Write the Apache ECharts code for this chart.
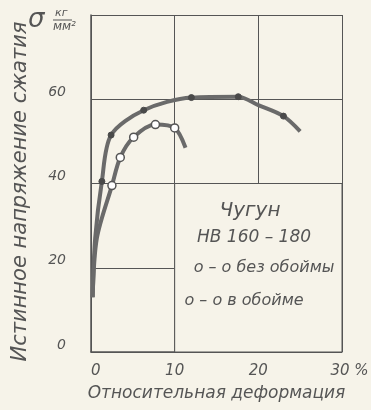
<!DOCTYPE html>
<html>
<head>
<meta charset="utf-8">
<script src="https://cdn.jsdelivr.net/npm/echarts@6/dist/echarts.min.js"></script>
<style>
  html, body { margin: 0; padding: 0; background: #f6f3e9; }
  #chart { width: 371px; height: 410px; }
</style>
</head>
<body>
<div id="chart"></div>
<script>
// относительная деформация, % / истинное напряжение, кг/мм2
var bezObojmy = [[0.2, 13], [0.5, 27], [1.3, 40.5], [2.4, 51.5], [6.3, 57.4], [12, 60.4], [17.6, 60.6], [20, 58.6], [23, 56], [25, 52.4]];
var vObojme = [[0.2, 13], [0.7, 27], [2.5, 39.5], [3.5, 46.2], [5.1, 51], [7.7, 54], [10, 53.2], [11.3, 48.5]];
// точки с кружками
var bezObojmyMarks = [2, 3, 4, 5, 6, 8];
var vObojmeMarks = [2, 3, 4, 5, 6];
var xTicks = [0, 10, 20, 30];
var yTicks = [0, 20, 40, 60, 80];

var ink = '#555';
var paper = '#f6f3e9';
var font = 'DejaVu Sans';

var chartDom = document.getElementById('chart');
var myChart = echarts.init(chartDom);

function withMarks(data, marks) {
    return data.map(function (p, i) {
        return { value: p, symbol: marks.indexOf(i) >= 0 ? 'circle' : 'none' };
    });
}

function label(x, y, text, size) {
    return {
        type: 'text', x: x, y: y, z: 100,
        style: { text: text, fill: ink, font: 'italic ' + size + 'px "DejaVu Sans"', align: 'center', verticalAlign: 'middle' }
    };
}

var option = {
    backgroundColor: paper,
    animation: false,
    grid: { left: 91, right: 29, top: 15, bottom: 58, outerBoundsMode: 'none', containLabel: false },
    xAxis: {
        type: 'value',
        min: xTicks[0], max: xTicks[xTicks.length - 1], interval: 10,
        name: 'Относительная деформация',
        nameLocation: 'middle',
        nameGap: 33,
        nameTextStyle: { color: ink, fontSize: 17, fontStyle: 'italic', fontFamily: font },
        axisLine: { lineStyle: { color: ink, width: 1.5 } },
        axisTick: { show: false },
        splitLine: { lineStyle: { color: ink, width: 1 } },
        axisLabel: {
            color: ink, fontSize: 15, fontStyle: 'italic', fontFamily: font,
            align: 'center', alignMinLabel: 'left', alignMaxLabel: 'center',
            margin: 12, hideOverlap: false,
            formatter: function (v) { return v === 30 ? '\u2002\u200230 %' : String(v); }
        }
    },
    yAxis: {
        type: 'value',
        min: yTicks[0], max: yTicks[yTicks.length - 1], interval: 20,
        name: 'Истинное напряжение сжатия',
        nameLocation: 'middle',
        nameGap: 60,
        nameRotate: 90,
        nameTextStyle: { color: ink, fontSize: 21, fontStyle: 'italic', fontFamily: font, padding: [0, 16, 0, 0] },
        axisLine: { show: true, lineStyle: { color: ink, width: 1.5 } },
        axisTick: { show: false },
        splitLine: { lineStyle: { color: ink, width: 1 } },
        axisLabel: {
            color: ink, fontSize: 14, fontStyle: 'italic', fontFamily: font,
            margin: 25, verticalAlign: 'bottom',
            formatter: function (v) { return v === 80 ? '' : String(v); }
        }
    },
    graphic: [
        { type: 'text', x: 28, y: 7, z: 100, style: { text: 'σ', fill: ink, font: 'italic 26px "DejaVu Sans"' } },
        { type: 'text', x: 55, y: 8, z: 100, style: { text: 'кг', fill: ink, font: 'italic 11px "DejaVu Sans"' } },
        { type: 'line', z: 100, shape: { x1: 53, y1: 20, x2: 72, y2: 20 }, style: { stroke: ink, lineWidth: 1 } },
        { type: 'text', x: 53, y: 21, z: 100, style: { text: 'мм²', fill: ink, font: 'italic 12px "DejaVu Sans"' } },
        label(250, 211, 'Чугун', 20),
        label(254, 238, 'НВ 160 – 180', 17),
        label(264, 268, 'о – о без обоймы', 16),
        label(244, 301, 'о – о в обойме', 16)
    ],
    series: [
        {
            name: 'рамка',
            type: 'line',
            data: [],
            markArea: {
                silent: true,
                itemStyle: { color: paper, borderColor: ink, borderWidth: 1 },
                data: [[{ coord: [10, 0] }, { coord: [30, 40] }]]
            }
        },
        {
            name: 'без обоймы',
            type: 'line',
            smooth: 0.3,
            data: withMarks(bezObojmy, bezObojmyMarks),
            symbolSize: 6,
            lineStyle: { color: '#6a6a6a', width: 4 },
            itemStyle: { color: '#4a4a4a', borderColor: '#4a4a4a', borderWidth: 1 },
            z: 3
        },
        {
            name: 'в обойме',
            type: 'line',
            smooth: 0.3,
            data: withMarks(vObojme, vObojmeMarks),
            symbolSize: 8,
            showAllSymbol: true,
            lineStyle: { color: '#6a6a6a', width: 4 },
            itemStyle: { color: '#ffffff', borderColor: '#555', borderWidth: 1.5 },
            z: 3
        }
    ]
};

myChart.setOption(option);
</script>
</body>
</html>
